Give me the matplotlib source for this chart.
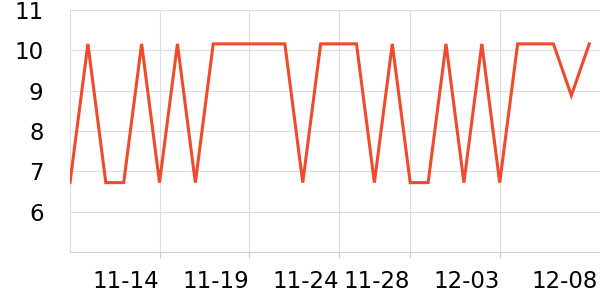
import matplotlib
matplotlib.use("Agg")
import matplotlib.pyplot as plt
import matplotlib.transforms as mtransforms

# daily values, 11-09 .. 12-08
days = list(range(30))
values = [6.72, 10.16, 6.72, 6.72, 10.16, 6.72, 10.16, 6.72, 10.16, 10.16,
          10.16, 10.16, 10.16, 6.72, 10.16, 10.16, 10.16, 6.72, 10.16, 6.72,
          6.72, 10.16, 6.72, 10.16, 6.72, 10.16, 10.16, 10.16, 8.88, 10.16]

tick_days = [5, 10, 15, 19, 24, 29]
tick_labels = ["11-14", "11-19", "11-24", "11-28", "12-03", "12-08"]
y_ticks = [6, 7, 8, 9, 10, 11]

fig = plt.figure(figsize=(6, 3), dpi=100)
ax = fig.add_axes([70 / 600, 1 - 252 / 300, 530 / 600, 242 / 300])

ax.plot(days, values, color="#ef4a2c", linewidth=2.2, solid_joinstyle="miter", zorder=3)

ax.set_xlim(0, 29.6)
ax.set_ylim(5, 11)

ax.set_yticks(y_ticks)
ax.set_yticklabels([str(v) for v in y_ticks])
ax.set_xticks(tick_days)
ax.set_xticklabels(tick_labels, ha="right")

ax.grid(True, color="#dddddd", linewidth=0.8)
ax.set_axisbelow(True)
for side in ["top", "right"]:
    ax.spines[side].set_visible(False)
ax.spines["left"].set_color("#dddddd")
ax.spines["left"].set_linewidth(0.8)
ax.spines["bottom"].set_color("#cccccc")
ax.spines["bottom"].set_linewidth(0.8)

ax.tick_params(axis="y", length=0, pad=19, labelsize=16.5)
ax.tick_params(axis="x", length=4, color="#cccccc", width=0.8, pad=9, labelsize=16.5)

# the last label sits at the right edge
last = ax.get_xticklabels()[-1]
last.set_transform(last.get_transform() + mtransforms.ScaledTranslation(9 / 100, 0, fig.dpi_scale_trans))
ax.get_xticklines()[-2].set_visible(False)
ax.xaxis.get_gridlines()[-1].set_visible(False)

fig.savefig("out.png", dpi=100)
